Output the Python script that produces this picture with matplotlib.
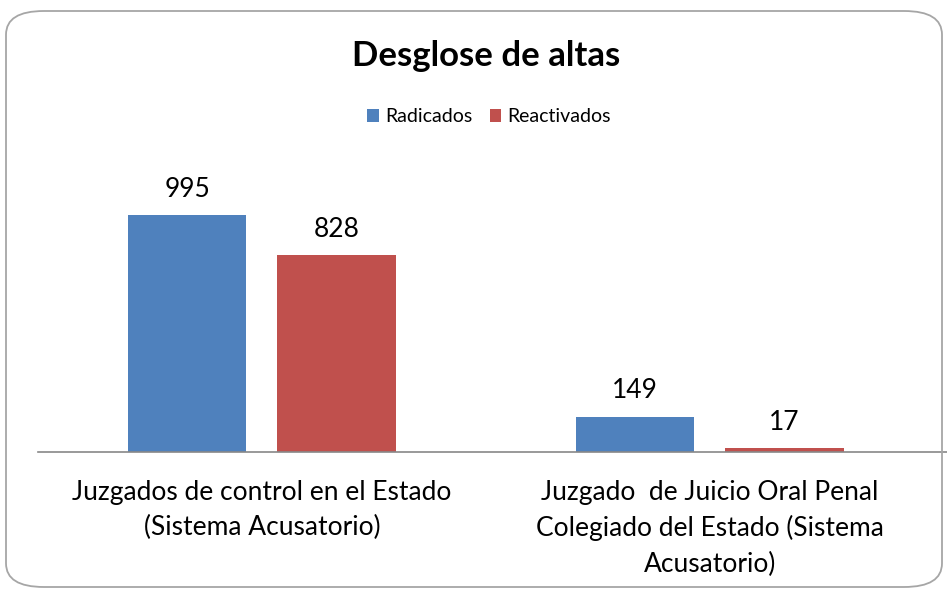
import numpy as np
import matplotlib.pyplot as plt
from matplotlib.patches import FancyBboxPatch

# Chart data
categories = ['Juzgados de control en el Estado\n(Sistema Acusatorio)',
              'Juzgado  de Juicio Oral Penal\nColegiado del Estado (Sistema\nAcusatorio)']
radicados = [995, 149]
reactivados = [828, 17]
series_names = ['Radicados', 'Reactivados']

blue = '#4F81BD'
red = '#C0504D'
W, H = 947, 591

plt.rcParams['font.family'] = ['Lato', 'DejaVu Sans']

fig = plt.figure(figsize=(W / 100, H / 100), dpi=100)

# rounded outer border
border = FancyBboxPatch((6 / W, 4 / H), 936 / W, 576 / H,
                        boxstyle='round,pad=0,rounding_size=0.04',
                        transform=fig.transFigure, facecolor='none',
                        edgecolor='#A6A6A6', linewidth=1.3, zorder=0)
fig.patches.append(border)

ax = fig.add_axes([38 / W, (H - 452) / H, (W - 38) / W, 285.6 / H])
ax.set_facecolor('none')

x = np.arange(len(categories))
bw = 0.265
off = 0.167
b1 = ax.bar(x - off, radicados, bw, color=blue, label=series_names[0])
b2 = ax.bar(x + off, reactivados, bw, color=red, label=series_names[1])

for bars in (b1, b2):
    for b in bars:
        ax.text(b.get_x() + b.get_width() / 2, b.get_height() + 55,
                str(int(b.get_height())), ha='center', va='bottom', fontsize=19)

ax.set_xlim(-0.5, 1.53)
ax.set_ylim(0, 1200)
ax.set_yticks([])
ax.set_xticks(x)
ax.set_xticklabels(categories, fontsize=19, linespacing=1.5)
ax.tick_params(axis='x', length=0, pad=20)
for s in ['top', 'right', 'left']:
    ax.spines[s].set_visible(False)
ax.spines['bottom'].set_color('#888888')
ax.spines['bottom'].set_linewidth(1.2)

fig.text(486 / W, 1 - 56 / H, 'Desglose de altas', ha='center', va='center',
         fontsize=25, fontweight='bold')

fig.legend(loc='center', bbox_to_anchor=(489 / W, 1 - 117 / H), ncol=2,
           frameon=False, fontsize=14, handlelength=0.6, handleheight=0.6,
           handletextpad=0.3, columnspacing=0.9)

fig.savefig('out.png', dpi=100)
